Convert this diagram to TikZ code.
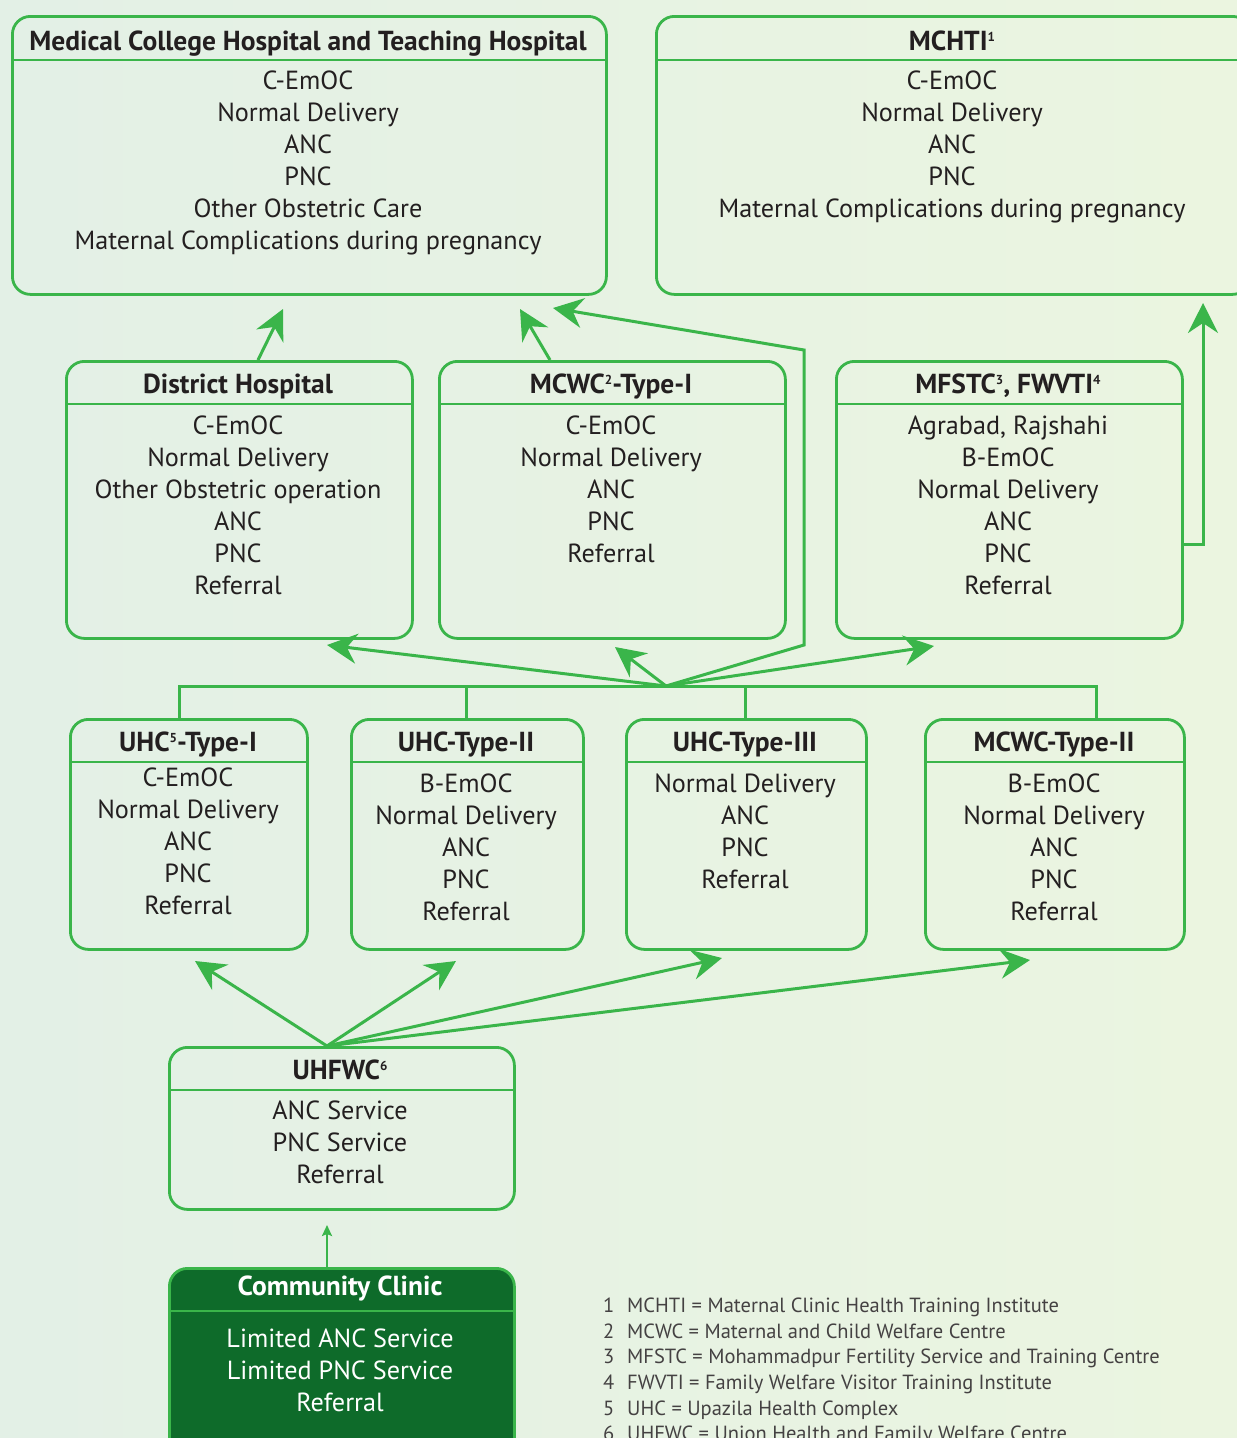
\documentclass[tikz,border=0pt]{standalone}
\usepackage{fontspec}
\setmainfont{PT Sans}
\usetikzlibrary{arrows.meta,calc}
\definecolor{lg}{HTML}{3AB54A}
\definecolor{dg}{HTML}{0E6B2A}
\definecolor{txt}{HTML}{231F20}
\definecolor{bgA}{HTML}{E3F0E6}
\definecolor{bgB}{HTML}{EBF5E0}
\newcommand\supnum[1]{\raisebox{9pt}{\fontsize{13}{13}\selectfont #1}}
\tikzset{
  boxframe/.style={draw=lg,line width=2.8pt,rounded corners=18pt,inner sep=0pt,anchor=north west},
  headline/.style={draw=lg,line width=2.8pt},
  ttl/.style={font=\fontsize{27.5}{30}\selectfont\bfseries,text=txt,anchor=base,inner sep=0pt},
  bodytxt/.style={font=\fontsize{26.2}{32}\selectfont,text=txt,align=center,anchor=north,inner sep=0pt},
  conn/.style={draw=lg,line width=3pt},
  bigarrow/.style={conn,-{Stealth[length=30pt,width=30pt,inset=10pt]}},
  smallarrow/.style={conn,line width=2.5pt,-{Stealth[length=11pt,width=10pt,inset=2pt]}},
  foot/.style={font=\fontsize{20.5}{23}\selectfont,text=txt!85,anchor=base west,inner sep=0pt},
}
\begin{document}
\begin{tikzpicture}[x=1pt,y=-1pt]
\useasboundingbox (0,0) rectangle (1237,1438);
\shade[left color=bgA,right color=bgB] (0,0) rectangle (1237,1438);

% ---------- top row ----------
\node[boxframe,minimum width=594pt,minimum height=278pt] (mch) at (11,15) {};
\draw[headline] (mch.west |- 0,60) -- (mch.east |- 0,60);
\node[ttl] (mchT) at (308,50) {Medical College Hospital and Teaching Hospital};
\node[bodytxt] (mchB) at (308,71) {C-EmOC\\Normal Delivery\\ANC\\PNC\\Other Obstetric Care\\Maternal Complications during pregnancy};

\node[boxframe,minimum width=594pt,minimum height=278pt] (mchti) at (655,15) {};
\draw[headline] (mchti.west |- 0,60) -- (mchti.east |- 0,60);
\node[ttl] (mchtiT) at (952,50) {MCHTI\supnum{1}};
\node[bodytxt] (mchtiB) at (952,71) {C-EmOC\\Normal Delivery\\ANC\\PNC\\Maternal Complications during pregnancy};

% ---------- second row ----------
\node[boxframe,minimum width=346pt,minimum height=277pt] (dh) at (65,360) {};
\draw[headline] (dh.west |- 0,404) -- (dh.east |- 0,404);
\node[ttl] (dhT) at (238,393) {District Hospital};
\node[bodytxt] (dhB) at (238,416) {C-EmOC\\Normal Delivery\\Other Obstetric operation\\ANC\\PNC\\Referral};

\node[boxframe,minimum width=346pt,minimum height=277pt] (mw1) at (438,360) {};
\draw[headline] (mw1.west |- 0,404) -- (mw1.east |- 0,404);
\node[ttl] (mw1T) at (611,393) {MCWC\supnum{2}-Type-I};
\node[bodytxt] (mw1B) at (611,416) {C-EmOC\\Normal Delivery\\ANC\\PNC\\Referral};

\node[boxframe,minimum width=346pt,minimum height=277pt] (mf) at (835,360) {};
\draw[headline] (mf.west |- 0,404) -- (mf.east |- 0,404);
\node[ttl] (mfT) at (1008,393) {MFSTC\supnum{3}, FWVTI\supnum{4}};
\node[bodytxt] (mfB) at (1008,416) {Agrabad, Rajshahi\\B-EmOC\\Normal Delivery\\ANC\\PNC\\Referral};

% ---------- third row ----------
\node[boxframe,minimum width=237pt,minimum height=230pt] (u1) at (69,718) {};
\draw[headline] (u1.west |- 0,762) -- (u1.east |- 0,762);
\node[ttl] (u1T) at (188,751) {UHC\supnum{5}-Type-I};
\node[bodytxt] (u1B) at (188,768) {C-EmOC\\Normal Delivery\\ANC\\PNC\\Referral};

\node[boxframe,minimum width=232pt,minimum height=230pt] (u2) at (350,718) {};
\draw[headline] (u2.west |- 0,762) -- (u2.east |- 0,762);
\node[ttl] (u2T) at (466,751) {UHC-Type-II};
\node[bodytxt] (u2B) at (466,774) {B-EmOC\\Normal Delivery\\ANC\\PNC\\Referral};

\node[boxframe,minimum width=240pt,minimum height=230pt] (u3) at (625,718) {};
\draw[headline] (u3.west |- 0,762) -- (u3.east |- 0,762);
\node[ttl] (u3T) at (745,751) {UHC-Type-III};
\node[bodytxt] (u3B) at (745,774) {Normal Delivery\\ANC\\PNC\\Referral};

\node[boxframe,minimum width=259pt,minimum height=230pt] (m2) at (924,718) {};
\draw[headline] (m2.west |- 0,762) -- (m2.east |- 0,762);
\node[ttl] (m2T) at (1054,751) {MCWC-Type-II};
\node[bodytxt] (m2B) at (1054,774) {B-EmOC\\Normal Delivery\\ANC\\PNC\\Referral};

% ---------- UHFWC ----------
\node[boxframe,minimum width=345pt,minimum height=162pt] (uh) at (168,1046) {};
\draw[headline] (uh.west |- 0,1090) -- (uh.east |- 0,1090);
\node[ttl] (uhT) at (340,1079) {UHFWC\supnum{6}};
\node[bodytxt] (uhB) at (340,1101) {ANC Service\\PNC Service\\Referral};

% ---------- Community clinic ----------
\node[boxframe,fill=dg,minimum width=345pt,minimum height=200pt] (cc) at (168,1267) {};
\draw[headline] (cc.west |- 0,1311) -- (cc.east |- 0,1311);
\node[ttl,text=white] (ccT) at (340,1295) {Community Clinic};
\node[bodytxt,text=white] (ccB) at (340,1329) {Limited ANC Service\\Limited PNC Service\\Referral};

% ---------- connector coordinates ----------
\coordinate (dhOut) at (258,360);
\coordinate (dhTip) at (283,309);
\coordinate (mw1Out) at (550,360);
\coordinate (mw1Tip) at (520,309);
\coordinate (hub) at (666,686);
\coordinate (bendA) at (804,645);
\coordinate (bendB) at (804,350);
\coordinate (mchTip2) at (553,308);
\coordinate (toDH) at (327,645);
\coordinate (toMW1) at (615,647);
\coordinate (toMF) at (934,646);
\coordinate (mfOut) at (1181,544);
\coordinate (mfBend) at (1203,544);
\coordinate (mchtiTip) at (1203,303);
\coordinate (b1) at (179,718);
\coordinate (b2) at (466,718);
\coordinate (b3) at (745,718);
\coordinate (b4) at (1096,718);
\coordinate (uhHub) at (327,1046);
\coordinate (toU1) at (195,961);
\coordinate (toU2) at (456,961);
\coordinate (toU3) at (722,958);
\coordinate (toM2) at (1030,960);
\coordinate (ccOut) at (327,1267);
\coordinate (ccTip) at (327,1225);

% ---------- connectors ----------
\draw[bigarrow] (dhOut) -- (dhTip);
\draw[bigarrow] (mw1Out) -- (mw1Tip);
\draw[conn] (b1) -- (b1 |- hub) -- (b4 |- hub) -- (b4);
\draw[conn] (b2) -- (b2 |- hub);
\draw[conn] (b3) -- (b3 |- hub);
\draw[bigarrow] (hub) -- (toDH);
\draw[bigarrow] (hub) -- (toMW1);
\draw[bigarrow] (hub) -- (toMF);
\draw[bigarrow] (hub) -- (bendA) -- (bendB) -- (mchTip2);
\draw[bigarrow] (mfOut) -- (mfBend) -- (mchtiTip);
\draw[bigarrow] (uhHub) -- (toU1);
\draw[bigarrow] (uhHub) -- (toU2);
\draw[bigarrow] (uhHub) -- (toU3);
\draw[bigarrow] (uhHub) -- (toM2);
\draw[smallarrow] (ccOut) -- (ccTip);

% ---------- footnotes ----------
\node[foot] (f1n) at (603,1312) {1};
\node[foot] (f1) at (627,1312) {MCHTI = Maternal Clinic Health Training Institute};
\node[foot] (f2n) at (603,1338) {2};
\node[foot] (f2) at (627,1338) {MCWC = Maternal and Child Welfare Centre};
\node[foot] (f3n) at (603,1363) {3};
\node[foot] (f3) at (627,1363) {MFSTC = Mohammadpur Fertility Service and Training Centre};
\node[foot] (f4n) at (603,1389) {4};
\node[foot] (f4) at (627,1389) {FWVTI = Family Welfare Visitor Training Institute};
\node[foot] (f5n) at (603,1415) {5};
\node[foot] (f5) at (627,1415) {UHC = Upazila Health Complex};
\node[foot] (f6n) at (603,1440) {6};
\node[foot] (f6) at (627,1440) {UHFWC = Union Health and Family Welfare Centre};
\end{tikzpicture}
\end{document}
